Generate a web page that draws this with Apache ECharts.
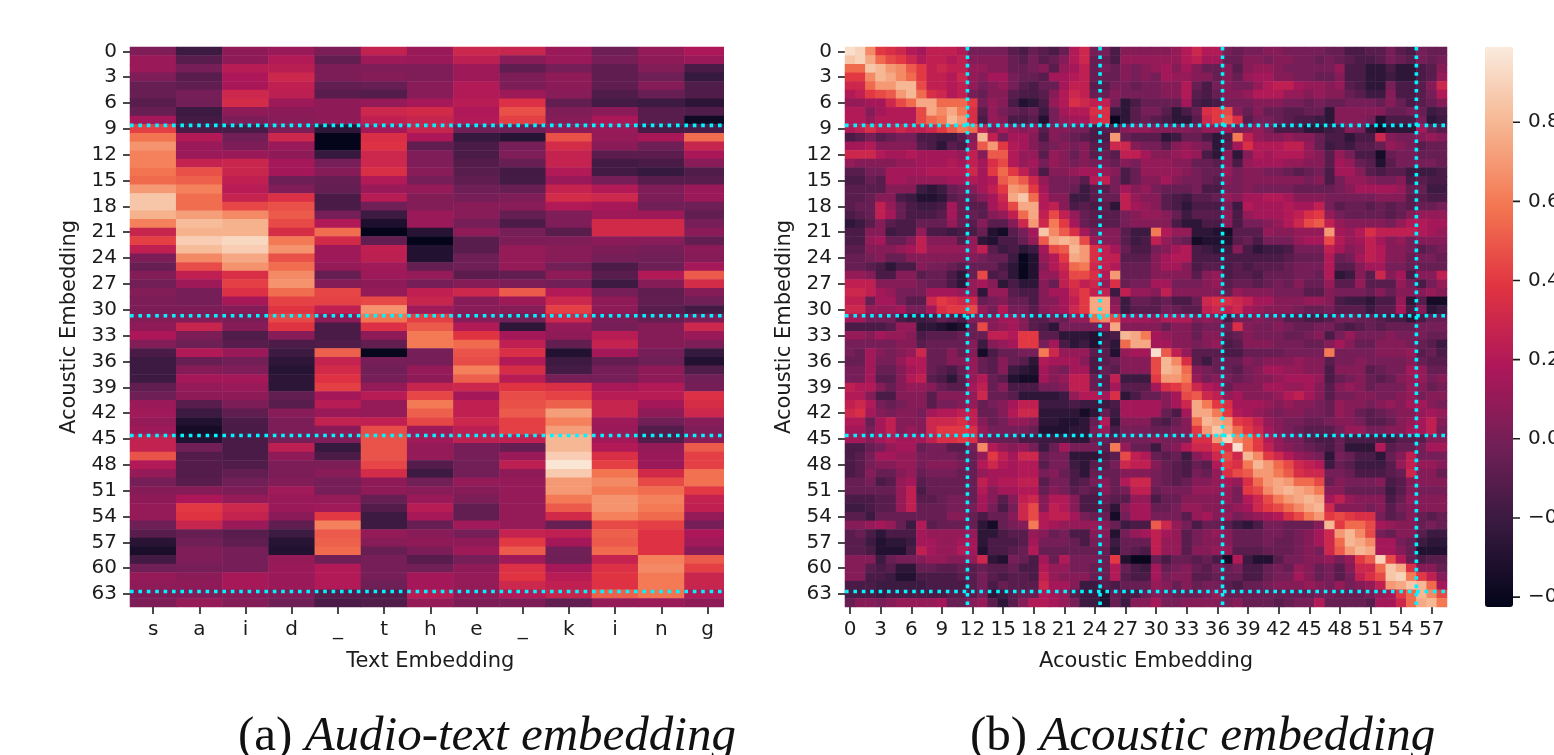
<!DOCTYPE html>
<html><head><meta charset="utf-8">
<style>html,body{margin:0;padding:0;background:#fff;overflow:hidden}#c{width:1554px;height:755px}</style>
<script src="https://cdn.jsdelivr.net/npm/echarts@6/dist/echarts.min.js"></script>
</head><body><div id="c"></div>
<script>
// Audio-text matrix: one list per text column, in hundredths
const colS=[3,12,12,3,-5,-5,-10,-5,15,42,58,68,62,62,58,55,70,85,85,78,62,28,42,25,2,-5,4,-1,4,2,2,5,8,18,4,-15,-20,-20,-20,-8,-3,12,14,10,13,26,26,48,20,10,0,5,8,10,10,-3,-10,-27,-33,-18,-2,10,8,2,2];
const colA=[-20,-10,0,-10,-8,0,-1,-20,-18,-15,20,12,12,27,47,52,62,56,56,72,82,78,88,82,65,46,25,13,0,0,2,5,28,2,-3,20,-5,5,15,10,8,-10,-20,-30,-35,-30,-2,-12,-12,-12,-10,5,18,40,38,28,-5,-2,3,3,0,7,8,3,10];
const colI=[8,8,22,18,17,30,33,8,2,-15,-2,2,12,29,29,25,22,27,44,65,78,78,92,88,75,68,35,42,36,16,5,2,5,-13,-10,12,-1,3,15,12,8,2,-8,-14,-15,-15,-15,-15,-13,-7,-2,2,10,30,27,12,-10,-8,0,0,0,16,16,5,4];
const colD=[12,20,23,30,25,24,13,7,6,2,30,12,8,15,15,-3,3,36,47,50,45,34,60,68,47,56,65,68,56,43,38,45,38,6,-14,-20,-25,-28,-26,-26,-7,-10,6,2,2,0,24,8,2,2,4,14,12,12,7,-8,-20,-28,-30,10,12,12,12,3,-3];
const colU1=[2,-7,2,2,-7,-10,8,8,8,-25,-42,-42,-22,0,5,-5,-6,-15,-15,0,20,56,32,13,13,10,-6,5,44,43,25,8,-15,-15,-13,52,27,32,37,42,15,22,12,26,7,3,-22,-15,2,6,0,0,10,14,40,62,50,52,55,-3,20,20,20,-10,-15];
const colT=[26,13,3,5,-5,-12,10,30,25,15,35,37,30,30,35,20,12,22,-2,-20,-32,-42,-7,25,24,14,13,8,10,45,68,58,36,8,-7,-40,0,-2,0,10,22,10,10,25,46,48,48,48,44,33,8,8,-5,-12,-20,-20,10,6,-5,0,0,0,-3,-12,-13];
const colH=[12,12,3,3,6,6,16,32,28,28,18,-8,3,3,6,0,10,4,4,12,12,-28,-42,-30,-30,-6,10,0,25,28,14,42,50,60,60,0,0,10,8,28,44,60,52,44,14,14,10,10,-12,-20,-2,6,12,22,16,-5,6,8,2,-10,-2,15,15,22,10];
const colE=[30,24,13,13,20,20,22,19,20,-2,-22,-15,-15,-12,-10,-8,-3,0,6,6,0,8,-10,-10,-3,-3,-9,5,30,6,6,6,20,38,55,48,46,62,52,30,15,25,25,30,24,25,0,0,-2,-1,10,5,2,-7,-7,14,0,8,13,0,8,10,10,8,2];
const colU2=[28,6,-8,2,2,13,36,47,42,-3,-28,0,3,-5,-18,-17,-5,3,6,-6,-14,0,2,10,10,10,-7,2,50,13,5,-2,-25,15,25,35,20,34,22,38,46,47,50,42,42,25,-6,12,24,8,10,10,10,10,10,10,27,40,50,14,36,38,30,20,2];
const colK=[12,12,0,8,7,6,-7,3,5,8,47,33,27,27,20,12,27,33,20,3,3,-10,3,6,6,-1,8,-1,20,30,42,30,10,8,-7,-30,-20,-17,0,35,43,52,72,62,72,80,80,88,97,87,70,70,60,50,32,-5,25,15,-2,-3,15,22,25,28,-7];
const colI2=[-3,0,-8,-8,-8,-13,-17,7,17,12,10,7,-9,-18,-18,0,20,30,16,13,32,32,7,2,0,-14,-10,-20,0,8,8,2,0,22,27,15,-7,0,0,16,22,28,28,13,12,15,20,35,42,58,65,60,68,68,62,45,52,50,55,27,36,38,37,52,10];
const colN=[10,8,4,-3,5,-5,-20,-10,-10,-15,17,-3,-9,-15,-22,-10,3,2,-2,13,32,32,6,0,-2,-3,20,5,-8,-7,-10,-5,5,5,5,0,-3,8,8,20,22,15,8,-2,-12,-12,10,12,12,32,45,56,62,60,55,42,37,37,37,62,65,60,60,58,12];
const colG=[18,12,-15,-22,-13,-13,-26,-13,-37,-14,56,28,17,6,-13,-10,12,12,-3,-7,0,7,-7,7,5,15,50,33,5,-2,-18,2,30,12,3,-22,-30,-13,-2,0,36,34,30,6,3,6,50,42,42,57,57,40,27,25,10,0,18,14,6,50,42,29,28,20,8];
const textLabels=['s','a','i','d','_','t','h','e','_','k','i','n','g'];
const textColumns=[colS,colA,colI,colD,colU1,colT,colH,colE,colU2,colK,colI2,colN,colG];

// Acoustic matrix: one list per row, in steps of 0.05
const r00=[19,18,13,8,7,6,4,3,5,5,5,4,0,0,0,0,-2,-3,-1,-2,-3,-1,4,6,0,0,-3,1,1,1,1,1,2,4,6,4,4,0,-1,0,0,1,1,0,0,0,0,-1,-1,-3,-3,-2,-2,0,-2,-3,0,-1,-1];
const r01=[17,18,15,11,9,8,6,4,5,5,4,5,1,1,1,1,-1,-2,0,-2,-1,1,4,6,-1,-1,-3,2,2,2,2,2,2,4,5,3,3,-1,-1,1,1,0,1,1,0,0,-1,0,-1,-2,-3,-3,-2,0,-1,-2,0,-1,0];
const r02=[11,11,17,16,14,13,10,8,5,6,5,5,2,2,1,1,-1,-1,0,1,-2,2,3,5,-1,0,-1,1,0,1,2,3,1,3,1,-1,-1,1,-2,1,2,2,1,0,0,0,0,0,2,-3,-3,-5,-5,-3,-5,-5,-3,-2,1];
const r03=[8,8,13,16,15,13,11,8,5,5,4,6,2,1,3,3,0,-1,-1,-2,3,3,4,5,-1,-1,-1,1,0,1,0,3,2,2,1,1,-1,1,-1,2,3,3,1,1,0,0,-1,-1,1,-3,-3,-5,-5,-4,-5,-5,-3,-2,2];
const r04=[6,6,11,14,14,16,16,9,5,5,4,5,2,0,1,2,0,-2,-3,-1,-1,3,5,5,-2,-2,0,0,-1,0,0,1,1,4,-1,-3,0,1,0,0,2,4,5,5,3,2,2,1,2,-2,-3,-5,-5,0,-3,-3,-2,1,6];
const r05=[4,5,8,9,10,14,16,11,7,6,4,5,0,-1,1,1,-2,-3,-3,-2,1,4,6,5,-1,-1,1,0,0,0,0,1,1,4,-2,-3,-1,1,1,2,4,4,4,2,2,1,2,1,1,-1,-2,-4,-4,1,-3,-3,-2,0,4];
const r06=[2,2,3,3,6,9,11,15,15,11,11,11,8,0,2,1,-3,-6,-5,-3,2,4,7,6,5,5,0,-5,-3,-1,-1,-1,-1,3,-3,-4,-3,0,0,0,1,1,1,0,0,-1,0,-1,-1,0,0,0,-1,1,-1,-3,-2,-1,1];
const r07=[4,4,1,3,4,4,4,9,15,13,15,12,7,-2,2,0,-1,-2,-1,-4,0,3,4,4,7,7,-4,-5,-2,0,0,-2,-5,-3,-1,7,8,9,1,-1,1,-1,-1,-2,-2,-1,-1,-5,1,1,1,1,1,-1,-1,0,-1,-4,-3];
const r08=[4,4,2,4,4,4,4,9,11,12,16,14,7,-3,2,1,-3,-3,-2,-6,0,2,3,3,6,7,-8,-5,-2,-1,-2,-3,-5,-5,-2,6,8,10,7,-2,0,0,-1,-2,-3,-3,-4,-5,1,1,1,0,-6,-3,-3,-3,0,-5,-4];
const r09=[4,5,7,5,5,6,5,5,6,8,10,12,11,5,1,4,2,1,2,-2,1,1,0,0,-3,-2,-2,1,2,2,1,1,1,1,0,2,2,3,0,1,2,0,-3,-3,-3,-5,-5,-4,-3,1,0,-5,-7,-5,-5,-5,3,-1,-2];
const r10=[-3,-2,0,-2,-1,0,0,-3,-3,-4,-4,-2,1,16,5,0,3,3,1,-3,1,0,-1,-2,-3,-3,14,-1,-2,-2,-2,-5,-4,-1,-1,-3,-5,-3,12,5,2,1,1,2,1,1,-1,-3,-3,-5,-3,-3,6,1,0,0,1,2,1];
const r11=[3,3,4,1,1,1,1,-2,-3,-5,-2,-3,2,10,14,8,4,3,1,-1,0,1,0,1,-2,-2,6,6,1,0,0,-2,1,2,1,0,-5,-2,3,7,4,4,4,5,5,2,-1,-4,-3,-4,-2,-2,-1,2,1,0,-2,-1,-1];
const r12=[6,6,6,4,3,3,4,3,3,3,3,2,5,1,10,10,4,2,2,-2,2,1,-1,1,-2,-1,-2,5,5,3,1,1,2,3,2,-3,-5,1,-5,1,4,3,4,4,4,2,1,-2,2,0,-3,-3,-7,-1,0,0,-1,-1,-1];
const r13=[2,1,1,1,1,2,2,3,3,3,4,3,5,3,7,9,4,2,3,0,2,1,0,1,0,0,-1,1,0,2,2,2,1,1,-1,-1,-2,1,-3,2,3,3,3,2,2,1,1,-2,3,2,-1,-2,-6,-2,0,0,0,0,-1];
const r14=[-2,-2,0,0,3,3,3,3,4,4,4,4,6,3,8,11,8,5,2,-3,1,1,2,3,3,2,1,-3,-1,2,2,2,2,1,0,-1,-1,2,0,1,1,0,0,-1,-2,-1,0,-3,3,3,1,-2,-3,-2,-2,-4,-4,-4,-3];
const r15=[-3,-3,-1,-2,3,3,2,2,2,2,3,3,4,3,4,10,12,10,6,2,0,0,0,-2,4,5,0,-3,-1,1,1,3,1,0,0,-1,-2,1,0,1,1,1,1,1,1,0,1,-3,0,2,2,1,0,0,1,-3,-2,-3,-3];
const r16=[-2,-2,-2,-2,1,1,1,-4,-5,-4,-1,0,1,3,5,8,14,13,8,3,0,0,-1,-4,-2,-2,0,3,1,2,0,-1,-1,-1,0,-3,-3,0,0,1,0,0,0,0,-1,-1,-1,-1,0,1,3,3,3,3,2,-1,-1,-4,-4];
const r17=[-2,-2,-1,1,1,-3,-4,-6,-6,-5,-2,-1,-1,1,3,6,15,17,11,4,1,1,-4,-4,-2,-1,-1,5,2,1,1,-2,-3,-4,-2,-2,-1,2,1,3,3,4,4,3,1,1,1,0,0,0,0,0,1,1,1,-2,-2,-3,-3];
const r18=[-2,-1,-1,5,2,-1,-3,-4,-4,-3,3,-1,-2,-2,3,5,9,15,15,4,5,1,-3,-2,-3,-2,-5,5,3,2,1,-2,-3,-5,-3,-3,-3,0,-4,4,3,3,3,4,3,3,5,0,-2,-1,-1,-2,-1,-2,-1,-2,-1,-1,0];
const r19=[-3,-2,-1,5,3,-1,-3,-3,-3,-2,3,-1,-1,-2,1,2,5,11,15,5,9,5,2,-1,-2,-2,-2,0,1,2,2,1,-1,-4,-2,-2,-2,1,-3,2,3,3,3,4,5,7,8,2,0,-1,-1,-1,-1,-2,-1,1,2,2,2];
const r20=[-5,-4,-2,1,-2,-3,-3,-1,-1,-1,2,-1,-2,1,-2,-2,1,6,14,6,12,8,3,-1,-2,-2,-2,0,1,1,1,1,-3,-5,-5,-3,-3,1,-3,0,0,1,2,4,6,9,10,5,2,1,1,1,1,0,2,4,4,3,3];
const r21=[-3,-3,1,1,-4,-3,-3,2,-3,-3,-4,-3,-3,-1,-6,-7,-2,0,3,17,13,10,7,3,0,1,1,-2,-4,-4,12,4,2,2,-5,-5,-6,-7,-2,-2,-2,2,1,1,2,2,2,14,3,2,4,7,5,5,5,5,4,3,2];
const r22=[-3,-3,2,3,-1,-1,1,5,1,1,1,-2,2,-5,-6,-3,-3,-1,2,10,15,16,15,9,2,1,1,-2,-4,-3,5,2,0,-1,-7,-6,-6,-6,-2,-1,-3,0,0,0,2,3,3,9,4,2,3,5,3,1,2,0,1,1,1];
const r23=[-2,-2,1,1,1,2,3,5,2,2,2,2,2,5,-2,-4,-3,-5,-4,3,9,10,16,14,7,5,3,-1,-3,-3,0,1,3,4,-3,-4,-5,-4,1,-3,-5,-4,-4,-3,0,0,0,5,3,1,2,5,4,1,1,0,-2,-1,0];
const r24=[-1,-1,0,1,-1,-1,1,1,1,1,1,1,1,0,-1,-1,-4,-8,-6,2,4,8,15,14,7,5,5,-2,-2,-2,1,3,4,4,-3,-3,-3,-3,-3,-3,-3,-3,-3,-2,-1,-1,-1,4,-1,0,3,5,4,1,1,-1,0,0,-1];
const r25=[-1,-1,-2,-3,-5,-3,-3,1,0,0,-1,-2,-1,-1,-1,-3,-5,-8,-6,1,4,6,11,12,6,5,4,-1,-1,-1,1,3,3,1,-3,-2,-2,-3,-2,-3,-2,-2,-2,-1,0,0,0,4,-2,-2,1,3,3,0,0,-1,-1,-1,-1];
const r26=[2,2,1,-3,-3,1,1,-2,-1,-1,-3,-5,-1,9,-3,-2,-5,-8,-6,2,2,5,9,9,7,4,14,-1,-1,-1,1,1,1,1,-2,1,2,-3,-2,-2,-3,-1,-1,-1,0,0,-1,4,-5,-4,1,-2,6,1,3,-3,1,1,5];
const r27=[5,5,5,1,1,1,1,0,-1,-1,-3,-5,2,3,1,-5,-3,-5,-5,1,-1,5,7,5,6,2,7,-1,0,0,3,3,0,0,0,1,2,-2,-1,-1,-2,-1,0,-1,1,-1,-1,2,-2,-2,2,-2,-2,-2,2,0,-3,0,2];
const r28=[6,6,5,3,2,0,0,0,3,3,3,2,2,-5,2,2,-2,-3,-3,1,3,3,6,8,5,5,-4,5,2,2,1,5,1,1,1,1,1,-1,2,1,1,1,0,0,0,-2,-2,1,0,0,0,-1,1,-1,1,1,1,2,1];
const r29=[5,5,-1,3,3,0,-2,-2,6,8,7,6,6,-1,0,1,-1,-1,-3,1,1,3,5,8,15,15,1,-4,-1,-1,-2,-1,-3,-3,-1,6,7,7,6,5,3,3,1,1,1,2,2,1,-3,-4,-4,-5,-3,-3,2,-5,-2,-7,-7];
const r30=[6,6,2,2,2,3,0,0,3,7,8,8,9,2,0,4,0,0,-2,1,2,3,6,8,15,15,2,-4,-2,-2,-2,0,-1,-2,-2,5,6,5,6,3,2,1,1,1,0,-1,-1,0,-2,-2,-2,-4,-2,-2,3,-3,1,-5,-4];
const r31=[3,3,0,0,0,-3,-4,-4,-3,-1,-2,-3,1,1,1,3,3,1,-2,-2,0,-1,2,2,11,13,9,3,3,3,2,4,4,4,1,2,1,-3,0,0,1,0,0,-2,-2,-3,-3,-2,0,0,-1,-1,-2,-3,-3,-5,-3,-1,-1];
const r32=[-3,-3,-3,-3,-2,2,2,-5,-5,-6,-7,-6,-1,9,1,2,3,1,-2,-3,-5,0,0,0,0,2,15,1,1,1,1,-1,1,1,-1,0,0,-1,7,1,0,0,1,0,-1,-1,0,0,-2,-3,-2,-1,-2,-1,-1,-1,0,0,0];
const r33=[2,2,1,3,2,2,1,-3,-2,-2,-2,-1,-1,-1,5,5,4,8,8,-2,-2,-5,-5,-5,-6,-4,-3,16,15,12,3,2,1,1,-1,1,1,-2,-1,1,0,0,0,-1,-1,0,1,-3,0,2,0,0,0,1,0,0,0,-1,-1];
const r34=[0,0,0,0,0,1,1,-2,-1,-1,-1,-1,1,-4,1,2,3,8,8,0,3,-3,-5,-4,-6,-3,-5,11,15,15,3,3,1,1,0,1,2,-3,-2,1,1,1,0,0,0,-1,-1,1,3,1,-1,-1,1,1,1,0,-1,-2,-4];
const r35=[0,-1,3,1,0,1,2,6,-1,-1,1,-1,1,-7,-3,-1,-1,0,0,12,6,2,2,2,-2,-2,-6,2,3,3,19,10,5,2,-2,-2,-2,-3,-3,-1,-1,-1,-1,0,0,0,0,12,0,0,0,0,1,1,1,2,-2,-1,-3];
const r36=[-1,-1,3,0,0,2,4,4,-1,-1,1,1,2,-1,-2,1,-1,-2,-5,4,3,3,3,1,-3,-2,-1,1,1,1,9,16,13,7,-2,-4,-1,-1,-1,1,0,1,1,1,2,1,1,-2,0,0,1,0,0,0,0,1,-1,-2,-2];
const r37=[0,0,3,-1,-1,1,3,4,-1,-2,-3,-1,2,-1,-2,1,-4,-5,-6,3,1,0,3,3,-3,-1,-2,1,1,1,9,16,15,11,1,0,-1,-1,-2,0,1,3,3,2,2,1,1,-3,1,1,1,-2,-1,0,0,3,2,-1,-1];
const r38=[0,0,3,-2,-2,1,4,5,-2,-3,-5,-2,2,4,-1,-2,-6,-7,-7,3,1,2,5,5,-1,-2,5,-4,-4,-4,8,14,14,12,2,0,1,0,-1,0,1,1,2,3,3,3,2,-3,-1,0,1,-1,-2,-1,1,2,2,0,1];
const r39=[5,4,4,1,-1,1,2,2,1,-1,-2,-2,3,5,-1,1,-3,-3,-3,0,0,1,5,5,-1,-2,3,-2,-2,-2,3,7,8,10,6,4,3,-1,1,1,1,3,3,2,2,3,1,-2,1,2,1,-1,0,0,0,2,1,-1,0];
const r40=[4,4,1,-3,-3,1,1,1,-2,1,1,1,2,6,-1,-1,-2,-5,-5,-5,-5,-4,2,4,4,3,7,-5,-3,-1,-1,1,3,9,10,6,5,2,3,1,1,1,2,4,5,3,1,-2,0,0,1,1,0,0,1,2,0,1,1];
const r41=[5,6,4,0,-1,0,1,1,-2,0,0,1,2,-1,0,1,3,5,5,-4,-4,-4,-3,-4,-4,-4,-3,3,3,3,3,1,3,6,15,12,8,7,3,3,3,2,1,2,1,1,0,-1,2,1,1,0,1,2,1,3,3,1,0];
const r42=[6,7,3,1,0,1,1,0,3,4,4,5,5,-1,-1,1,4,6,6,-5,-5,-5,-5,-7,-5,-1,-4,3,3,3,3,-1,-3,3,15,15,12,8,4,3,2,1,0,1,1,0,0,-1,2,1,-1,-2,-1,0,1,1,2,3,2];
const r43=[4,4,-1,3,5,1,1,1,6,6,6,7,5,1,-1,0,2,2,1,-5,-5,-6,-6,-5,-1,4,-5,1,1,1,-2,-3,-1,1,11,16,15,14,8,7,5,2,1,0,0,-1,-1,0,1,1,0,-2,-2,-1,1,2,3,5,1];
const r44=[3,3,0,3,5,1,2,1,6,8,8,8,7,2,0,0,0,0,-1,-6,-6,-6,-5,-5,0,2,-3,0,0,0,-1,-1,0,1,8,14,17,15,11,8,6,3,1,0,-1,-2,-2,-2,0,2,2,0,0,1,1,3,3,5,0];
const r45=[3,3,1,3,4,3,3,3,5,7,7,8,7,1,-1,-1,-1,-3,-3,-4,-4,-4,-5,-5,-1,-1,-2,0,0,0,1,0,0,0,7,7,14,18,13,11,8,4,2,0,0,-2,-3,-3,-1,-3,-3,-3,-3,-4,-2,-2,-2,1,1];
const r46=[-3,-3,-1,0,2,3,3,-1,0,0,-2,-2,0,13,4,2,1,2,0,-4,-1,3,0,0,0,-2,12,2,-1,-1,-4,0,1,4,6,6,8,7,19,11,8,5,2,1,0,-1,-2,-3,-1,-5,-5,-5,4,-2,-1,-1,0,3,3];
const r47=[-3,-2,0,3,3,2,2,0,0,0,0,-1,-1,2,8,5,3,6,6,-1,0,0,-5,-5,-5,-3,-2,9,5,4,-1,-2,-1,-4,1,3,6,9,6,16,13,8,6,4,2,1,0,-5,0,-1,-3,-3,-5,-1,1,5,0,0,0];
const r48=[-3,-2,0,1,1,2,2,0,1,1,1,0,-1,4,6,4,3,4,4,-2,0,0,-4,-5,-2,-2,0,6,5,5,1,-1,-2,-3,-1,-2,4,8,7,12,16,14,11,9,6,5,4,-4,-1,-2,-4,-4,-4,-2,2,5,2,2,1];
const r49=[-3,-2,1,-1,-1,1,2,-1,0,0,0,-1,-1,2,3,3,3,4,4,0,1,-1,-3,-5,-1,-1,-1,1,1,1,0,-1,-2,-3,0,-1,2,7,9,10,14,14,12,10,7,6,6,0,0,-1,-3,-3,-3,-2,-1,6,1,1,-1];
const r50=[-1,-1,0,-3,-2,2,3,-2,-1,-1,-1,-1,-1,5,3,4,4,5,5,-2,0,0,-3,-2,0,1,-1,4,6,6,0,-1,-2,-1,1,1,2,3,2,7,11,14,15,14,11,11,9,-1,1,0,0,0,1,-3,-2,1,1,1,1];
const r51=[-1,-1,-1,-1,-1,2,5,-3,-1,-1,-1,-1,-1,4,1,3,3,4,4,-1,1,0,-2,-1,-2,1,-1,0,5,5,-1,0,0,0,2,2,2,2,0,8,9,13,15,16,15,14,12,1,1,-1,-1,-1,-1,-4,-2,1,0,0,0];
const r52=[-3,-3,-3,-2,-2,2,5,-2,-2,-1,0,0,-1,3,1,-2,1,5,6,1,4,4,1,-3,-3,-1,-2,-2,2,2,-3,-1,-1,1,1,1,1,2,0,4,6,9,12,14,15,16,15,3,5,2,1,1,1,-3,-1,2,1,1,1];
const r53=[-4,-4,-3,-2,-2,2,5,-1,-1,-1,0,0,0,3,0,-3,0,6,9,1,5,4,1,-3,-3,-2,-5,1,3,3,-1,-1,0,2,2,1,1,1,2,3,6,8,9,11,13,15,16,6,1,1,1,0,1,-2,0,1,1,1,1];
const r54=[-2,-2,-4,-1,-1,-1,-1,-1,-1,-1,1,1,-1,-3,-1,-1,1,6,9,4,5,5,3,0,-1,-1,-7,0,3,3,0,0,0,-2,2,3,1,2,0,1,2,3,4,7,9,12,14,8,9,8,7,7,0,-2,-1,1,-1,-2,-1];
const r55=[1,1,2,3,2,-1,-4,4,-2,-1,-1,-1,-1,-5,-7,-1,0,1,12,4,3,2,2,2,2,1,-1,-4,-3,-3,10,6,2,0,-3,-1,-1,-2,-4,-5,-3,0,0,-1,-1,-1,1,16,8,11,11,9,3,2,1,1,-1,0,-1];
const r56=[-2,-1,-3,-5,-3,-3,-3,3,2,2,2,2,2,-5,-5,-3,-2,-2,2,1,-1,0,-3,-3,1,1,-6,0,2,3,5,3,2,-2,0,1,2,1,-1,-1,-1,0,0,-1,0,1,3,6,14,16,13,9,0,-1,1,1,-2,-4,-4];
const r57=[-2,-2,-4,-6,-5,-5,-4,3,3,2,2,3,3,-5,-3,-3,-3,-2,3,0,0,0,-1,-3,0,0,-4,-1,-1,-1,5,2,2,-2,0,1,1,1,-1,-1,-1,0,-1,-1,0,1,3,6,11,16,15,13,3,3,0,-1,-4,-5,-5];
const r58=[-2,-2,-3,-6,-6,-6,-3,5,3,2,2,4,3,-6,-3,-3,-2,-1,4,-1,-1,-1,-1,-1,-1,-1,-5,-1,-2,-3,5,2,2,-2,1,1,2,2,-2,-2,-2,-1,-1,-1,0,1,0,6,10,14,16,15,3,3,1,-1,-6,-6,-6];
const r59=[1,1,1,-4,-1,0,0,1,2,2,1,1,2,6,-5,-6,0,-1,-3,3,-1,4,0,0,0,-1,8,-6,-8,-8,-1,-3,-1,-1,-2,-1,-3,-7,4,-4,-6,-6,-2,0,0,1,1,2,0,2,8,10,18,9,4,-1,-3,-2,-2];
const r60=[1,1,-2,-3,-2,-5,-5,-1,-1,-2,-2,-1,-2,-1,-2,-2,-1,-3,-3,4,2,2,0,0,-1,-1,4,-1,-3,-4,3,-1,0,1,-1,-2,0,-1,0,-3,-3,-1,0,-1,2,1,-1,0,-2,1,6,6,11,17,15,7,1,1,-1];
const r61=[1,1,-3,-3,-4,-6,-6,-3,-3,-3,-3,-2,-2,0,-2,-3,-2,-2,-3,5,2,1,1,1,-1,-1,4,-2,-3,-3,3,0,1,1,-2,-2,-1,-1,-1,-3,-3,-1,0,0,3,1,-1,0,-2,0,5,7,9,17,18,12,8,5,1];
const r62=[-3,-3,-3,-4,-4,-4,-4,-4,-3,-3,-3,-3,-2,0,-3,-1,-2,-2,-2,6,3,3,1,-4,-4,-2,-3,-1,-1,-1,2,1,-1,1,-1,0,0,-2,-3,-1,-1,0,1,1,1,2,1,0,2,0,1,2,5,14,15,17,16,11,3];
const r63=[-3,-3,-3,-4,-3,-3,-3,-3,-3,-3,-2,-2,-2,0,-5,-4,-2,-1,-1,4,3,2,-2,-4,-4,-6,-1,-3,-3,-1,1,0,-1,-1,-1,0,2,-1,-1,-1,-1,-1,-1,-1,-1,-1,0,0,-1,-1,-1,0,2,3,8,11,16,13,9];
const r64=[-1,1,1,0,1,2,2,2,2,3,-1,-1,1,2,-2,-5,-2,1,4,4,3,2,0,-4,-4,-6,-1,-4,1,1,3,0,0,1,1,1,1,0,1,-1,-1,-1,-2,-1,0,0,4,-1,-1,-1,-1,-2,3,3,6,11,15,16,12];
const acousticRows=[r00,r01,r02,r03,r04,r05,r06,r07,r08,r09,r10,r11,r12,r13,r14,r15,r16,r17,r18,r19,r20,r21,r22,r23,r24,r25,r26,r27,r28,r29,r30,r31,r32,r33,r34,r35,r36,r37,r38,r39,r40,r41,r42,r43,r44,r45,r46,r47,r48,r49,r50,r51,r52,r53,r54,r55,r56,r57,r58,r59,r60,r61,r62,r63,r64];

const boundaryRows=[9.1,31.2,45.1,63.2];
const boundaryCols=[12,25,37,56];
const colorbarTicks=[-0.4,-0.2,0,0.2,0.4,0.6,0.8];
const vMin=-0.425, vMax=0.99;
const rocket=['#03051A','#35193e','#701f57','#ad1759','#e13342','#f37651','#f6b48f','#FAEBDD'];
const rowCount=65, acousticCols=59;

const rowLabels=Array.from({length:rowCount},(_,i)=>String(i));
const acousticLabels=Array.from({length:acousticCols},(_,i)=>String(i));
const leftData=[],rightData=[];
textColumns.forEach((col,x)=>col.forEach((v,y)=>leftData.push([x,y,v/100])));
acousticRows.forEach((row,y)=>row.forEach((v,x)=>rightData.push([x,y,v*0.05])));

const FONT='"DejaVu Sans"', INK='#1c1c1c', FS=20, NAME_FS=21;
const tick={show:true,length:7,lineStyle:{color:INK,width:1.6}};
const catX=(gridIndex,data,interval,name)=>({type:'category',gridIndex,data,position:'bottom',
  axisLine:{show:false},splitLine:{show:false},
  axisTick:{...tick,alignWithLabel:true,interval},
  axisLabel:{interval,margin:13,color:INK,fontFamily:FONT,fontSize:FS,hideOverlap:false},
  name,nameLocation:'middle',nameGap:44,nameTextStyle:{color:INK,fontFamily:FONT,fontSize:NAME_FS}});
const catY=(gridIndex)=>({type:'category',gridIndex,data:rowLabels,inverse:true,position:'left',
  axisLine:{show:false},splitLine:{show:false},
  axisTick:{...tick,alignWithLabel:true,interval:2},
  axisLabel:{interval:2,margin:13,color:INK,fontFamily:FONT,fontSize:FS,hideOverlap:false},
  name:'Acoustic Embedding',nameLocation:'middle',nameGap:50,nameRotate:90,
  nameTextStyle:{color:INK,fontFamily:FONT,fontSize:NAME_FS}});
const hidden=(gridIndex,min,max,inverse)=>({type:'value',gridIndex,min,max,inverse:!!inverse,show:false,splitLine:{show:false}});
const dotted=(xi,yi,data)=>({type:'line',xAxisIndex:xi,yAxisIndex:yi,data,symbol:'none',silent:true,z:10,animation:false,
  lineStyle:{color:'#00f5ff',width:3.6,type:[3.6,4.8],cap:'butt'}});
const overlay=[];
boundaryRows.forEach(r=>{overlay.push(dotted(2,2,[[0,r],[12.85,r]]));overlay.push(dotted(3,3,[[0,r],[acousticCols,r]]));});
boundaryCols.forEach(c=>overlay.push(dotted(3,3,[[c,0],[c,rowCount]])));
// colorbar tick marks: x runs 0..1 across the bar and 1..1.25 across the tick length
const colorbarTickSeries=colorbarTicks.map(v=>({type:'line',xAxisIndex:4,yAxisIndex:4,data:[[1,v],[1.25,v]],symbol:'none',silent:true,animation:false,
  lineStyle:{color:INK,width:1.6}}));

const serif=(extra)=>({fontFamily:'"Liberation Serif"',fontWeight:'normal',fontSize:49,color:'#111',...extra});
const chart=echarts.init(document.getElementById('c'),null,{renderer:'canvas'});
chart.setOption({
  animation:false,backgroundColor:'#fff',
  title:[
    {text:'{r|(a) }{i|Audio-text embedding}',left:233,top:708,textStyle:{fontWeight:'normal',rich:{r:serif({}),i:serif({fontStyle:'italic'})}}},
    {text:'{r|(b) }{i|Acoustic embedding}',left:965,top:708,textStyle:{fontWeight:'normal',rich:{r:serif({}),i:serif({fontStyle:'italic'})}}}
  ],
  grid:[
    {left:130,top:47,width:600.6,height:560,outerBoundsMode:'none'},
    {left:845,top:47,width:602,height:560,outerBoundsMode:'none'},
    {left:130,top:47,width:600.6,height:560,outerBoundsMode:'none'},
    {left:845,top:47,width:602,height:560,outerBoundsMode:'none'},
    {left:1485,top:47,width:35,height:560,outerBoundsMode:'none'}
  ],
  xAxis:[
    catX(0,textLabels,0,'Text Embedding'),
    catX(1,acousticLabels,2,'Acoustic Embedding'),
    hidden(2,0,13),hidden(3,0,acousticCols),hidden(4,0,1.25)
  ],
  yAxis:[
    catY(0),catY(1),
    hidden(2,0,rowCount,true),hidden(3,0,rowCount,true),
    {type:'value',gridIndex:4,min:vMin,max:vMax,position:'right',splitLine:{show:false},axisLine:{show:false},
     axisTick:{show:false},
     axisLabel:{customValues:colorbarTicks,margin:8,color:INK,fontFamily:FONT,fontSize:FS,
       formatter:v=>(v<-0.001?'\u2212':'')+Math.abs(v).toFixed(1)}}
  ],
  visualMap:{type:'continuous',min:vMin,max:vMax,seriesIndex:[0,1],calculable:false,realtime:false,
    left:1485,top:47,itemWidth:28,itemHeight:560,text:null,showLabel:false,padding:0,
    inRange:{color:rocket}},
  graphic:[{type:'rect',silent:true,z:5,shape:{x:724,y:40,width:9,height:569},style:{fill:'#fff'}}],
  series:[
    {type:'heatmap',xAxisIndex:0,yAxisIndex:0,data:leftData,progressive:0,animation:false,silent:true},
    {type:'heatmap',xAxisIndex:1,yAxisIndex:1,data:rightData,progressive:0,animation:false,silent:true},
    ...overlay,...colorbarTickSeries
  ]
});
</script></body></html>
